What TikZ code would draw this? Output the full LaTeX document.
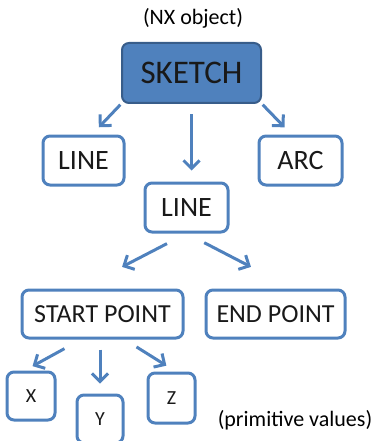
\documentclass[tikz,border=0pt]{standalone}
\usepackage{fontspec}
\setmainfont{Carlito}
\usetikzlibrary{arrows.meta}
\definecolor{nxblue}{RGB}{79,129,189}
\definecolor{nxdark}{RGB}{56,93,138}
\begin{document}
\begin{tikzpicture}[x=1pt,y=-1pt,
  box/.style={draw=nxblue, line width=3pt, rounded corners=7pt, fill=white, inner sep=0pt, text=black!90},
  arr/.style={draw=nxblue, line width=3pt, -{Straight Barb[length=8pt,width=16pt]}}]
\useasboundingbox (0,0) rectangle (378,441);

\node[font=\fontsize{22}{26}\selectfont] (nxlabel) at (193,18) {(NX object)};
\node[box, fill=nxblue, draw=nxdark, line width=2pt, minimum width=139pt, minimum height=60pt, font=\fontsize{33}{38}\selectfont] (sketch) at (191.5,73) {SKETCH};

\node[box, minimum width=81pt, minimum height=49pt, font=\fontsize{28}{32}\selectfont] (line1) at (83.5,160.5) {LINE};
\node[box, minimum width=83pt, minimum height=49pt, font=\fontsize{28}{32}\selectfont] (arc) at (300.5,160.5) {ARC};
\node[box, minimum width=83pt, minimum height=49pt, font=\fontsize{28}{32}\selectfont] (line2) at (186.5,207.5) {LINE};

\node[box, minimum width=161pt, minimum height=48pt, font=\fontsize{26}{30}\selectfont] (start) at (102.5,314) {START POINT};
\node[box, minimum width=139pt, minimum height=48pt, font=\fontsize{26}{30}\selectfont] (end) at (275.5,314) {END POINT};

\node[box, minimum width=48pt, minimum height=48pt, font=\fontsize{20}{24}\selectfont] (x) at (31,396) {X};
\node[box, minimum width=46pt, minimum height=48pt, font=\fontsize{20}{24}\selectfont] (y) at (100,419) {Y};
\node[box, minimum width=47pt, minimum height=50pt, font=\fontsize{20}{24}\selectfont] (z) at (171.5,398) {Z};
\node[font=\fontsize{22}{26}\selectfont] (primlabel) at (295,420) {(primitive values)};

\draw[arr, shorten <=1pt, shorten >=10pt] (sketch.south west) -- (line1.72);
\draw[arr, shorten <=10pt, shorten >=11pt] (sketch.south) -- (sketch.south |- line2.north);
\draw[arr, shorten <=1pt, shorten >=10pt] (sketch.south east) -- (arc.109);

\draw[arr, shorten <=22pt, shorten >=47pt] (line2.south) -- (start.131);
\draw[arr, shorten <=20pt, shorten >=47pt] (line2.south) -- (end.56);

\draw[arr, shorten <=19pt, shorten >=9pt] (start.230) -- (x.104);
\draw[arr, shorten <=10pt, shorten >=10pt] (y.north |- start.south) -- (y.north);
\draw[arr, shorten <=14pt, shorten >=11pt] (start.311) -- (z.81);
\end{tikzpicture}
\end{document}
